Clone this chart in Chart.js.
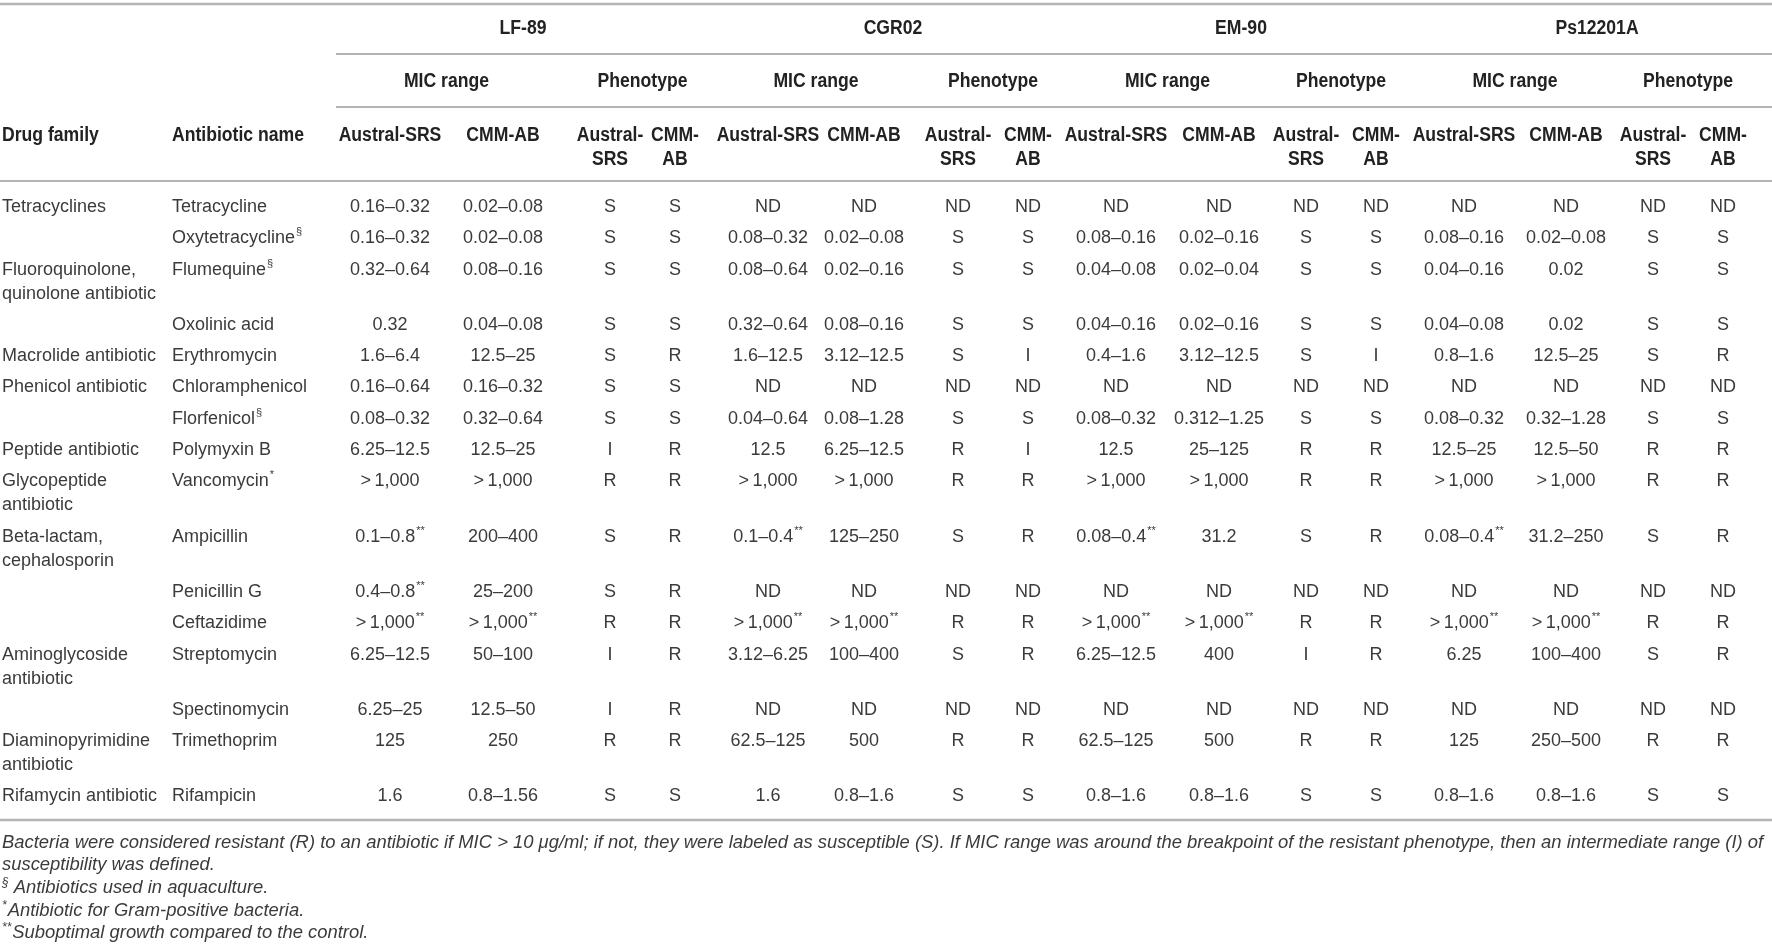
<!DOCTYPE html>
<html>
<head>
<meta charset="utf-8">
<script src="https://cdn.jsdelivr.net/npm/chart.js@4.4.1/dist/chart.umd.min.js"></script>
<style>
  html, body { margin: 0; padding: 0; background: #fff; overflow: hidden; }
  canvas { display: block; }
</style>
</head>
<body>
<canvas id="micTable" width="1772" height="949"></canvas>
<script>
// ---- table content ----
const strains = ['LF-89', 'CGR02', 'EM-90', 'Ps12201A'];
const groupHeads = ['MIC range', 'Phenotype'];
const micMedia = ['Austral-SRS', 'CMM-AB'];
const phenoMedia = ['Austral-\nSRS', 'CMM-\nAB'];

const drugFamilies = [
  'Tetracyclines', '', 'Fluoroquinolone,\nquinolone antibiotic', '', 'Macrolide antibiotic',
  'Phenicol antibiotic', '', 'Peptide antibiotic', 'Glycopeptide\nantibiotic', 'Beta-lactam,\ncephalosporin',
  '', '', 'Aminoglycoside\nantibiotic', '', 'Diaminopyrimidine\nantibiotic', 'Rifamycin antibiotic'
];
const antibiotics = [
  'Tetracycline', 'Oxytetracycline§', 'Flumequine§', 'Oxolinic acid', 'Erythromycin',
  'Chloramphenicol', 'Florfenicol§', 'Polymyxin B', 'Vancomycin*', 'Ampicillin',
  'Penicillin G', 'Ceftazidime', 'Streptomycin', 'Spectinomycin', 'Trimethoprim', 'Rifampicin'
];

const G = '>\u20091,000';
const lf89Mic = [
  ['0.16–0.32', '0.02–0.08'], ['0.16–0.32', '0.02–0.08'], ['0.32–0.64', '0.08–0.16'], ['0.32', '0.04–0.08'],
  ['1.6–6.4', '12.5–25'], ['0.16–0.64', '0.16–0.32'], ['0.08–0.32', '0.32–0.64'], ['6.25–12.5', '12.5–25'],
  [G, G], ['0.1–0.8**', '200–400'], ['0.4–0.8**', '25–200'], [G + '**', G + '**'],
  ['6.25–12.5', '50–100'], ['6.25–25', '12.5–50'], ['125', '250'], ['1.6', '0.8–1.56']
];
const lf89Pheno = [
  ['S', 'S'], ['S', 'S'], ['S', 'S'], ['S', 'S'], ['S', 'R'], ['S', 'S'], ['S', 'S'], ['I', 'R'],
  ['R', 'R'], ['S', 'R'], ['S', 'R'], ['R', 'R'], ['I', 'R'], ['I', 'R'], ['R', 'R'], ['S', 'S']
];
const cgr02Mic = [
  ['ND', 'ND'], ['0.08–0.32', '0.02–0.08'], ['0.08–0.64', '0.02–0.16'], ['0.32–0.64', '0.08–0.16'],
  ['1.6–12.5', '3.12–12.5'], ['ND', 'ND'], ['0.04–0.64', '0.08–1.28'], ['12.5', '6.25–12.5'],
  [G, G], ['0.1–0.4**', '125–250'], ['ND', 'ND'], [G + '**', G + '**'],
  ['3.12–6.25', '100–400'], ['ND', 'ND'], ['62.5–125', '500'], ['1.6', '0.8–1.6']
];
const cgr02Pheno = [
  ['ND', 'ND'], ['S', 'S'], ['S', 'S'], ['S', 'S'], ['S', 'I'], ['ND', 'ND'], ['S', 'S'], ['R', 'I'],
  ['R', 'R'], ['S', 'R'], ['ND', 'ND'], ['R', 'R'], ['S', 'R'], ['ND', 'ND'], ['R', 'R'], ['S', 'S']
];
const em90Mic = [
  ['ND', 'ND'], ['0.08–0.16', '0.02–0.16'], ['0.04–0.08', '0.02–0.04'], ['0.04–0.16', '0.02–0.16'],
  ['0.4–1.6', '3.12–12.5'], ['ND', 'ND'], ['0.08–0.32', '0.312–1.25'], ['12.5', '25–125'],
  [G, G], ['0.08–0.4**', '31.2'], ['ND', 'ND'], [G + '**', G + '**'],
  ['6.25–12.5', '400'], ['ND', 'ND'], ['62.5–125', '500'], ['0.8–1.6', '0.8–1.6']
];
const em90Pheno = [
  ['ND', 'ND'], ['S', 'S'], ['S', 'S'], ['S', 'S'], ['S', 'I'], ['ND', 'ND'], ['S', 'S'], ['R', 'R'],
  ['R', 'R'], ['S', 'R'], ['ND', 'ND'], ['R', 'R'], ['I', 'R'], ['ND', 'ND'], ['R', 'R'], ['S', 'S']
];
const ps12201aMic = [
  ['ND', 'ND'], ['0.08–0.16', '0.02–0.08'], ['0.04–0.16', '0.02'], ['0.04–0.08', '0.02'],
  ['0.8–1.6', '12.5–25'], ['ND', 'ND'], ['0.08–0.32', '0.32–1.28'], ['12.5–25', '12.5–50'],
  [G, G], ['0.08–0.4**', '31.2–250'], ['ND', 'ND'], [G + '**', G + '**'],
  ['6.25', '100–400'], ['ND', 'ND'], ['125', '250–500'], ['0.8–1.6', '0.8–1.6']
];
const ps12201aPheno = [
  ['ND', 'ND'], ['S', 'S'], ['S', 'S'], ['S', 'S'], ['S', 'R'], ['ND', 'ND'], ['S', 'S'], ['R', 'R'],
  ['R', 'R'], ['S', 'R'], ['ND', 'ND'], ['R', 'R'], ['S', 'R'], ['ND', 'ND'], ['R', 'R'], ['S', 'S']
];

const footnotes = [
  'Bacteria were considered resistant (R) to an antibiotic if MIC > 10 μg/ml; if not, they were labeled as susceptible (S). If MIC range was around the breakpoint of the resistant phenotype, then an intermediate range (I) of',
  'susceptibility was defined.',
  '§ Antibiotics used in aquaculture.',
  '*Antibiotic for Gram-positive bacteria.',
  '**Suboptimal growth compared to the control.'
];

// ---- layout (page pixels, mapped through the chart scales) ----
const W = 1772, H = 949;
const FONT = '"Liberation Sans", Arial, sans-serif';
const bodyStyle = { font: '18px ' + FONT, color: '#3b3b3b', sx: 1 };
const headStyle = { font: 'bold 20px ' + FONT, color: '#222', sx: 0.88 };
const supFont = '11px ' + FONT;
const ruleColor = '#b4b4b4';
const LINE = 24;

const leftX = [2, 172];
const colX = [390, 503, 610, 675, 768, 864, 958, 1028, 1116, 1219, 1306, 1376, 1464, 1566, 1653, 1723];
const strainX = [523, 893, 1241, 1597];
const subRuleX = 336;
const rules = [ // [y, xFrom, width]
  [4, 0, 2.5], [54, subRuleX, 2], [107, subRuleX, 2], [181, 0, 2], [820, 0, 2.5]
];
const headY = { strain: 28, group: 81, media: 135 };
const firstRowY = 207, rowPitch = 31.3;
const footY = [843, 865, 888, 911, 933];

const rowLines = drugFamilies.map(s => s.split('\n').length);
const rowY = [];
rowLines.forEach((n, r) => {
  rowY.push(r === 0 ? firstRowY : rowY[r - 1] + rowPitch + (rowLines[r - 1] - 1) * LINE);
});

// one column of text per dataset
const strainMic = [lf89Mic, cgr02Mic, em90Mic, ps12201aMic];
const strainPheno = [lf89Pheno, cgr02Pheno, em90Pheno, ps12201aPheno];
const columns = [
  { texts: drugFamilies, x: leftX[0], align: 'left' },
  { texts: antibiotics, x: leftX[1], align: 'left' }
];
strains.forEach((s, i) => {
  [0, 1].forEach(k => columns.push({ texts: strainMic[i].map(p => p[k]), x: colX[i * 4 + k], align: 'center' }));
  [0, 1].forEach(k => columns.push({ texts: strainPheno[i].map(p => p[k]), x: colX[i * 4 + 2 + k], align: 'center' }));
});

function drawText(ctx, txt, x, y, align, st) {
  txt.split('\n').forEach((line, i) => {
    const m = line.match(/^(.*?)([§*]+)$/);
    const base = m ? m[1] : line;
    const sup = m ? m[2] : '';
    ctx.font = st.font;
    const wb = ctx.measureText(base).width * st.sx;
    ctx.font = supFont;
    const ws = sup ? ctx.measureText(sup).width + 1 : 0;
    const x0 = align === 'center' ? x - (wb + ws) / 2 : x;
    const yy = y + i * LINE;
    ctx.fillStyle = st.color;
    ctx.textAlign = 'left';
    ctx.textBaseline = 'middle';
    ctx.save();
    ctx.translate(x0, yy);
    ctx.scale(st.sx, 1);
    ctx.font = st.font;
    ctx.fillText(base, 0, 0);
    ctx.restore();
    if (sup) {
      ctx.font = supFont;
      ctx.fillText(sup, x0 + wb + 1, yy - 6);
    }
  });
}

const tablePlugin = {
  id: 'tableText',
  beforeDatasetsDraw(chart) {
    const ctx = chart.ctx, xs = chart.scales.x, ys = chart.scales.y;
    ctx.save();
    ctx.strokeStyle = ruleColor;
    rules.forEach(([y, x0, lw]) => {
      ctx.lineWidth = lw;
      ctx.beginPath();
      ctx.moveTo(xs.getPixelForValue(x0), ys.getPixelForValue(y));
      ctx.lineTo(xs.getPixelForValue(W), ys.getPixelForValue(y));
      ctx.stroke();
    });
    ctx.restore();
  },
  afterDatasetsDraw(chart) {
    const ctx = chart.ctx, xs = chart.scales.x, ys = chart.scales.y;
    ctx.save();
    // header rows
    strains.forEach((s, i) => {
      drawText(ctx, s, xs.getPixelForValue(strainX[i]), ys.getPixelForValue(headY.strain), 'center', headStyle);
      groupHeads.forEach((g, k) => {
        const gx = (colX[i * 4 + k * 2] + colX[i * 4 + k * 2 + 1]) / 2;
        drawText(ctx, g, xs.getPixelForValue(gx), ys.getPixelForValue(headY.group), 'center', headStyle);
      });
      micMedia.forEach((m, k) => drawText(ctx, m, xs.getPixelForValue(colX[i * 4 + k]), ys.getPixelForValue(headY.media), 'center', headStyle));
      phenoMedia.forEach((m, k) => drawText(ctx, m, xs.getPixelForValue(colX[i * 4 + 2 + k]), ys.getPixelForValue(headY.media), 'center', headStyle));
    });
    drawText(ctx, 'Drug family', xs.getPixelForValue(leftX[0]), ys.getPixelForValue(headY.media), 'left', headStyle);
    drawText(ctx, 'Antibiotic name', xs.getPixelForValue(leftX[1]), ys.getPixelForValue(headY.media), 'left', headStyle);

    // body cells from the dataset points
    chart.data.datasets.forEach((ds, di) => {
      chart.getDatasetMeta(di).data.forEach((pt, r) => {
        const t = ds.texts[r];
        if (t) drawText(ctx, t, pt.x, pt.y, ds.align, bodyStyle);
      });
    });

    // footnotes (italic, markers raised)
    let fs = 16;
    ctx.font = 'italic ' + fs + 'px ' + FONT;
    fs = fs * (W - 10) / ctx.measureText(footnotes[0]).width;
    const footFont = 'italic ' + fs.toFixed(2) + 'px ' + FONT;
    const footSup = 'italic ' + (fs * 0.65).toFixed(2) + 'px ' + FONT;
    ctx.fillStyle = bodyStyle.color;
    ctx.textAlign = 'left';
    ctx.textBaseline = 'middle';
    footnotes.forEach((f, i) => {
      const y = ys.getPixelForValue(footY[i]);
      const m = f.match(/^([§*]+)\s?(.*)$/);
      let x = xs.getPixelForValue(2);
      if (m) {
        ctx.font = footSup;
        ctx.fillText(m[1], x, y - 5);
        x += ctx.measureText(m[1]).width + (f.startsWith('§') ? 5 : 1);
        ctx.font = footFont;
        ctx.fillText(m[2], x, y);
      } else {
        ctx.font = footFont;
        ctx.fillText(f, x, y);
      }
    });
    ctx.restore();
  }
};

new Chart(document.getElementById('micTable'), {
  type: 'scatter',
  data: {
    datasets: columns.map((c, i) => ({
      label: 'col' + i,
      texts: c.texts,
      align: c.align,
      data: c.texts.map((t, r) => ({ x: c.x, y: rowY[r] })),
      pointRadius: 0,
      pointHoverRadius: 0
    }))
  },
  options: {
    responsive: false,
    animation: false,
    devicePixelRatio: 1,
    layout: { padding: 0 },
    events: [],
    plugins: { legend: { display: false }, tooltip: { enabled: false } },
    scales: {
      x: { type: 'linear', display: false, min: 0, max: W },
      y: { type: 'linear', display: false, min: 0, max: H, reverse: true }
    }
  },
  plugins: [tablePlugin]
});
</script>
</body>
</html>
